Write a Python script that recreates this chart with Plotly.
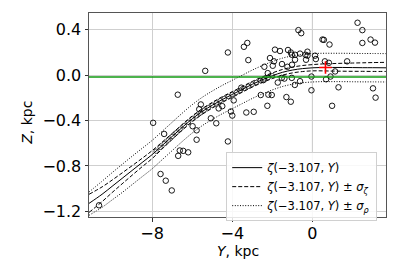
import plotly.graph_objects as go

# ---- data ----
curve_y = [-11.15, -10.5, -10.0, -9.5, -9.0, -8.5, -8.0, -7.5, -7.0, -6.5, -6.0, -5.5, -5.0,
           -4.5, -4.0, -3.5, -3.0, -2.5, -2.0, -1.5, -1.0, -0.5, 0.0, 0.5, 1.0, 1.5, 2.0,
           2.5, 3.0, 3.67]
zeta = [-1.13, -1.05, -0.98, -0.91, -0.84, -0.77, -0.70, -0.62, -0.54, -0.46, -0.385, -0.32,
        -0.265, -0.215, -0.17, -0.125, -0.08, -0.04, -0.005, 0.025, 0.045, 0.058, 0.065,
        0.068, 0.068, 0.068, 0.067, 0.066, 0.066, 0.065]
zeta_plus_sz = [-1.05, -0.985, -0.925, -0.862, -0.798, -0.733, -0.665, -0.59, -0.513, -0.435,
                -0.36, -0.295, -0.24, -0.19, -0.145, -0.1, -0.055, -0.015, 0.02, 0.05, 0.071,
                0.085, 0.093, 0.099, 0.102, 0.105, 0.107, 0.109, 0.111, 0.113]
zeta_minus_sz = [-1.21, -1.115, -1.035, -0.958, -0.882, -0.807, -0.735, -0.65, -0.567, -0.485,
                 -0.41, -0.345, -0.29, -0.24, -0.195, -0.15, -0.105, -0.065, -0.03, 0.0,
                 0.02, 0.032, 0.038, 0.038, 0.036, 0.035, 0.034, 0.034, 0.033, 0.033]
zeta_plus_sr = [-1.03, -0.935, -0.86, -0.787, -0.715, -0.645, -0.575, -0.495, -0.415, -0.335,
                -0.26, -0.195, -0.14, -0.09, -0.045, 0.0, 0.045, 0.085, 0.12, 0.15, 0.17,
                0.183, 0.19, 0.193, 0.193, 0.193, 0.192, 0.191, 0.191, 0.19]
zeta_minus_sr = [-1.235, -1.165, -1.1, -1.035, -0.965, -0.895, -0.825, -0.745, -0.665, -0.585,
                 -0.51, -0.445, -0.39, -0.34, -0.295, -0.25, -0.205, -0.165, -0.13, -0.1,
                 -0.08, -0.067, -0.06, -0.057, -0.057, -0.057, -0.058, -0.059, -0.059, -0.06]

obs_y = [2.25, 2.49, -0.70, -0.56, 2.90, 3.12, 2.49, 0.50, 0.57, 0.85, -3.25, -3.42, -4.22,
         -3.20, -5.35, -1.87, -1.62, -1.22, -1.08, -0.87, -0.62, -0.25, -0.35, -0.32, 0.13,
         0.17, -0.87, -2.12, -1.92, -2.40, -1.98, -1.52, -1.25, -1.02, -2.23, -1.53, -1.40,
         -1.03, -2.45, -1.73, -0.62, -0.88, -0.05, -0.05, 0.62, 0.82, 1.73, 1.13, 0.90, 0.68,
         1.30, 3.02, 3.15, 0.98, -3.55, -2.58, -2.20, -2.03, -1.30, -1.08, -2.25, -3.93,
         -4.50, -4.68, -4.07, -4.00, -3.30, -2.93, -5.07, -4.80, -4.22, -6.72, -7.95, -7.40,
         -5.57, -5.65, -5.98, -5.78, -5.78, -6.62, -6.45, -6.20, -6.70, -7.58, -7.32, -7.02,
         -10.65, -1.03, -0.25]
obs_z = [0.462, 0.397, 0.397, 0.370, 0.314, 0.287, 0.284, 0.314, 0.311, 0.270, 0.284, 0.250,
         0.200, 0.133, 0.038, 0.225, 0.213, 0.222, 0.200, 0.180, 0.190, 0.207, 0.180, 0.136,
         0.172, 0.142, 0.136, 0.151, 0.122, 0.074, 0.083, 0.098, 0.074, 0.092, 0.018, -0.024,
         -0.030, -0.024, -0.044, -0.065, -0.053, -0.086, -0.012, -0.133, 0.122, 0.109, 0.122,
         0.033, -0.012, -0.036, -0.107, -0.116, -0.198, -0.270, -0.110, -0.175, -0.172,
         -0.175, -0.193, -0.234, -0.270, -0.222, -0.273, -0.293, -0.320, -0.356, -0.329,
         -0.323, -0.380, -0.424, -0.584, -0.172, -0.420, -0.518, -0.258, -0.300, -0.450,
         -0.486, -0.569, -0.664, -0.667, -0.680, -0.711, -0.871, -0.930, -1.016, -1.147,
         0.180, 0.172]

band_y = [-7.8, -7.6, -7.4, -7.2, -7.0, -6.8, -6.6, -6.4, -6.2, -6.0, -5.8, -5.6, -5.4, -5.2,
          -5.0, -4.8, -4.6, -4.4, -4.2, -4.0, -3.8, -3.6, -3.4, -3.2, -3.0, -2.8, -2.6, -2.4,
          -2.2, -2.0]
band_z = [-0.67, -0.636, -0.604, -0.572, -0.54, -0.508, -0.476, -0.445, -0.415, -0.385,
          -0.359, -0.333, -0.309, -0.287, -0.265, -0.245, -0.225, -0.206, -0.188, -0.17,
          -0.152, -0.134, -0.116, -0.098, -0.08, -0.064, -0.048, -0.033, -0.019, -0.005]

sun_y = [0.65]
sun_z = [0.068]
green_level = -0.015
x_range = [-11.15, 3.67]
y_range = [-1.25, 0.548]
x_ticks = [-8, -4, 0]
x_ticktext = ["−8", "−4", "0"]
y_ticks = [-1.2, -0.8, -0.4, 0.0, 0.4]

label_mid = "<i>ζ</i>(−3.107, <i>Y</i>)"

fig = go.Figure()

fig.add_trace(go.Scatter(x=obs_y, y=obs_z, mode="markers", showlegend=False,
                         marker=dict(symbol="circle-open", size=5.5, color="black",
                                     line=dict(width=0.9, color="black"))))
fig.add_trace(go.Scatter(x=band_y, y=band_z, mode="markers", showlegend=False,
                         marker=dict(symbol="circle-open", size=4.5, color="black",
                                     line=dict(width=0.7, color="black"))))

fig.add_trace(go.Scatter(x=curve_y, y=zeta, mode="lines", name=label_mid,
                         line=dict(color="black", width=1, shape="spline")))
fig.add_trace(go.Scatter(x=curve_y, y=zeta_plus_sz, mode="lines",
                         name=label_mid + " ± <i>σ</i><sub><i>ζ</i></sub>",
                         line=dict(color="black", width=1, dash="4px,2px", shape="spline")))
fig.add_trace(go.Scatter(x=curve_y, y=zeta_minus_sz, mode="lines", showlegend=False,
                         line=dict(color="black", width=1, dash="4px,2px", shape="spline")))
fig.add_trace(go.Scatter(x=curve_y, y=zeta_plus_sr, mode="lines",
                         name=label_mid + " ± <i>σ</i><sub><i>ρ</i></sub>",
                         line=dict(color="black", width=1, dash="1px,1.6px", shape="spline")))
fig.add_trace(go.Scatter(x=curve_y, y=zeta_minus_sr, mode="lines", showlegend=False,
                         line=dict(color="black", width=1, dash="1px,1.6px", shape="spline")))

fig.add_trace(go.Scatter(x=sun_y, y=sun_z, mode="markers", showlegend=False,
                         marker=dict(symbol="cross-thin", size=9, color="red",
                                     line=dict(width=1.6, color="red"))))

fig.add_hline(y=green_level, line=dict(color="#129a12", width=1.5))
fig.add_vline(x=0, line=dict(color="#808080", width=1), layer="below")

fig.add_annotation(text="<i>Y</i>, kpc", xref="paper", yref="paper", x=0.5, y=0,
                   xanchor="center", yanchor="middle", yshift=-34, showarrow=False,
                   font=dict(size=14))
fig.add_annotation(text="<i>Z</i>, kpc", xref="paper", yref="paper", x=0, y=0.462,
                   xanchor="center", yanchor="middle", xshift=-62, textangle=-90,
                   showarrow=False, font=dict(size=14))

fig.update_layout(
    width=407, height=269,
    margin=dict(l=89, r=21, t=13, b=52),
    paper_bgcolor="white", plot_bgcolor="white",
    font=dict(family="DejaVu Sans", size=16, color="black"),
    legend=dict(x=0.462, y=0.318, xanchor="left", yanchor="top",
                bgcolor="rgba(255,255,255,0.85)", bordercolor="#d0d0d0", borderwidth=1,
                font=dict(size=11.5), tracegroupgap=0, itemwidth=30),
)
fig.update_xaxes(range=x_range, tickvals=x_ticks, ticktext=x_ticktext,
                 showgrid=True, gridcolor="#cfcfcf", gridwidth=1, zeroline=False,
                 showline=True, linecolor="#555555", linewidth=1, mirror=True,
                 ticks="outside", ticklen=3.5, tickcolor="#333333",
                 ticklabelstandoff=-2)
fig.update_yaxes(range=y_range, tickvals=y_ticks, tickformat=".1f",
                 showgrid=True, gridcolor="#cfcfcf", gridwidth=1, zeroline=False,
                 showline=True, linecolor="#555555", linewidth=1, mirror=True,
                 ticks="outside", ticklen=3.5, tickcolor="#333333")

fig.write_html("out.html", post_script="document.body.style.margin='0';",
               config={"displayModeBar": False})
